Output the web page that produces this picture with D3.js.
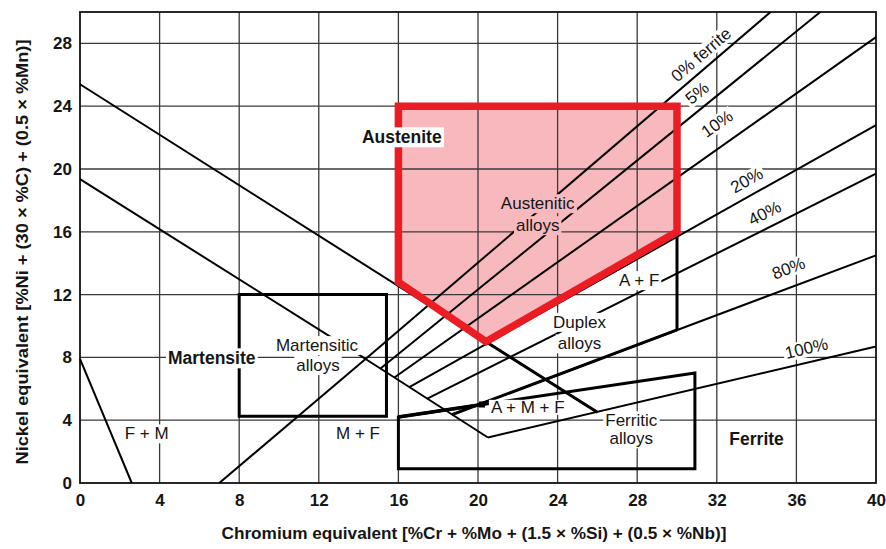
<!DOCTYPE html>
<html>
<head>
<meta charset="utf-8">
<script src="https://cdn.jsdelivr.net/npm/d3@7"></script>
<style>
  body { margin: 0; background: #fff; }
  text { font-family: "Liberation Sans", Arial, Helvetica, sans-serif; fill: #151515; }
</style>
</head>
<body>
<svg id="chart" width="886" height="549"></svg>
<script>
// Axis ticks (Cr equivalent on x, Ni equivalent on y)
const xTicks = [0, 4, 8, 12, 16, 20, 24, 28, 32, 36, 40];
const yTicks = [0, 4, 8, 12, 16, 20, 24, 28];

// Phase boundaries, [Cr_eq, Ni_eq]
const austeniteBoundary = [[0, 25.4], [26, 4.5]];
const austeniteBoundaryLower = [[20.4, 9.0], [26, 4.5]];
const martensiteBoundary = [[0, 19.36], [14.35, 7.9]];
const fmBoundary = [[0, 7.9], [2.6, 0]];
const mfBoundary = [[7, 0], [14.35, 7.9]];
const amfBoundary = [[14.35, 7.9], [20.5, 2.9]];
const amfPointer = [[16, 4.2], [20.2, 5.0]];

// Iso-ferrite lines
const ferriteLabels = ["0% ferrite", "5%", "10%", "20%", "40%", "80%", "100%"];
const ferriteStart = [[14.35, 7.9], [15.1, 7.29], [15.8, 6.72], [16.55, 6.11], [17.45, 5.38], [18.7, 4.36], [20.5, 2.9]];
const ferriteEnd = [[34.7, 30], [37.2, 30], [40, 28.4], [40, 22.8], [40, 19.7], [40, 14.5], [40, 8.7]];

// Alloy-family boxes and the duplex field
const martensiticBox = [[8, 4.25], [15.4, 4.25], [15.4, 12], [8, 12]];
const ferriticBox = [[16, 4.2], [30.9, 7.0], [30.9, 0.9], [16, 0.9]];
const afBoundary = [[30, 16], [30, 9.75]];
const duplexBoundary = [[18.7, 4.36], [30, 9.75]];
const austeniticRegion = [[16, 24], [30, 24], [30, 16], [20.4, 9], [16, 12.8]];

const svg = d3.select("#chart");
const x = d3.scaleLinear().domain([0, 40]).range([80, 876]);
const y = d3.scaleLinear().domain([0, 30]).range([483, 12]);
const line = d3.line().x(d => x(d[0])).y(d => y(d[1]));

// Austenitic alloys region (fill under the grid)
svg.append("path").datum(austeniticRegion)
  .attr("d", d => line(d) + "Z")
  .attr("fill", "#f8b9be");

// Grid
const grid = svg.append("g").attr("stroke", "#3a3a3a").attr("stroke-width", 1.3);
grid.selectAll("line.v").data(xTicks.slice(1, -1)).join("line")
  .attr("x1", d => x(d)).attr("x2", d => x(d)).attr("y1", y(0)).attr("y2", y(30));
grid.selectAll("line.h").data(yTicks.slice(1)).join("line")
  .attr("y1", d => y(d)).attr("y2", d => y(d)).attr("x1", x(0)).attr("x2", x(40));

// Axes
const xAxis = d3.axisBottom(x).tickValues(xTicks).tickSize(0).tickPadding(11);
const yAxis = d3.axisLeft(y).tickValues(yTicks).tickSize(0).tickPadding(8);
const gx = svg.append("g").attr("transform", `translate(0,${y(0)})`).call(xAxis);
const gy = svg.append("g").attr("transform", `translate(${x(0)},0)`).call(yAxis);
[gx, gy].forEach(g => {
  g.select(".domain").remove();
  g.selectAll("text").attr("font-size", 17).attr("font-weight", "bold")
    .style("font-family", "'Liberation Sans', Arial, sans-serif").attr("fill", "#1a1a1a");
});

// Plot frame
svg.append("rect").attr("x", x(0)).attr("y", y(30))
  .attr("width", x(40) - x(0)).attr("height", y(0) - y(30))
  .attr("fill", "none").attr("stroke", "#111").attr("stroke-width", 1.8);

// Boundary lines
const thin = svg.append("g").attr("fill", "none").attr("stroke", "#000").attr("stroke-width", 2);
[austeniteBoundary, martensiteBoundary, fmBoundary, mfBoundary, amfBoundary].forEach(p =>
  thin.append("path").datum(p).attr("d", line));
ferriteStart.forEach((s, i) =>
  thin.append("path").datum([s, ferriteEnd[i]]).attr("d", line));

const thick = svg.append("g").attr("fill", "none").attr("stroke", "#000").attr("stroke-width", 3);
thick.append("path").datum(martensiticBox).attr("d", d => line(d) + "Z");
thick.append("path").datum(ferriticBox).attr("d", d => line(d) + "Z");
[afBoundary, duplexBoundary, austeniteBoundaryLower].forEach(p =>
  thick.append("path").datum(p).attr("d", line));
thick.append("path").datum(amfPointer).attr("d", line).attr("stroke-width", 3.6);
svg.append("rect").datum(amfPointer[1])
  .attr("x", d => x(d[0]) - 3).attr("y", d => y(d[1]) - 3)
  .attr("width", 6).attr("height", 6).attr("fill", "#000");

// Region outline
svg.append("path").datum(austeniticRegion)
  .attr("d", d => line(d) + "Z")
  .attr("fill", "none").attr("stroke", "#ec1c24").attr("stroke-width", 7.5)
  .attr("stroke-linejoin", "miter");

// Labels, with an optional backing that cuts the lines beneath
function label(txt, cx, cy, o = {}) {
  const g = svg.append("g")
    .attr("transform", `translate(${x(cx)},${y(cy)}) rotate(${o.angle || 0})`);
  const r = g.append("rect");
  const t = g.append("text").attr("text-anchor", "middle").attr("dy", "0.36em")
    .attr("font-size", o.size || 17).attr("font-weight", o.bold ? "bold" : "normal")
    .text(txt);
  if (o.bg) {
    const b = t.node().getBBox();
    const px = o.padX == null ? 2 : o.padX, py = o.padY == null ? 0 : o.padY;
    r.attr("x", b.x - px).attr("y", b.y - py)
      .attr("width", b.width + 2 * px).attr("height", b.height + 2 * py)
      .attr("fill", o.bg);
  } else r.remove();
}
label("Austenite", 16.17, 22.04, { bold: true, bg: "#fff", size: 17.5 });
label("Austenitic", 23, 17.83, { bg: "#f8b9be" });
label("alloys", 23, 16.43, { bg: "#f8b9be" });
label("Martensite", 6.62, 7.96, { bold: true, bg: "#fff", size: 17.5 });
label("Martensitic", 11.91, 8.79, { bg: "#fff" });
label("alloys", 11.96, 7.52, { bg: "#fff" });
label("F + M", 3.35, 3.17, { bg: "#fff" });
label("M + F", 13.97, 3.17, { bg: "#fff" });
label("A + M + F", 22.5, 4.86, { bg: "#fff", padY: -2 });
label("Ferritic", 27.7, 4.0, { bg: "#fff" });
label("alloys", 27.7, 2.85, { bg: "#fff" });
label("Duplex", 25.1, 10.27, { bg: "#fff" });
label("alloys", 25.1, 8.9, { bg: "#fff" });
label("A + F", 28.1, 12.93, { bg: "#fff" });
label("Ferrite", 34.0, 2.85, { bold: true, size: 17.5 });

const ferriteLabelPos = [[31.2, 27.3], [31, 24.85], [32, 22.9], [33.5, 19.3], [34.4, 17.2], [35.6, 13.7], [36.5, 8.6]];
ferriteLabels.forEach((t, i) => {
  const s = ferriteStart[i], e = ferriteEnd[i];
  const ang = Math.atan2(y(e[1]) - y(s[1]), x(e[0]) - x(s[0])) * 180 / Math.PI;
  label(t, ferriteLabelPos[i][0], ferriteLabelPos[i][1], { angle: ang, bg: "#fff", padY: -1 });
});

// Axis titles
svg.append("text").attr("x", 474).attr("y", 533).attr("text-anchor", "middle")
  .attr("dominant-baseline", "central").attr("font-size", 17).attr("font-weight", "bold")
  .attr("textLength", 505).attr("lengthAdjust", "spacingAndGlyphs")
  .text("Chromium equivalent [%Cr + %Mo + (1.5 × %Si) + (0.5 × %Nb)]");
svg.append("text").attr("transform", "translate(22,252) rotate(-90)")
  .attr("text-anchor", "middle").attr("dominant-baseline", "central")
  .attr("font-size", 17).attr("font-weight", "bold")
  .attr("textLength", 425).attr("lengthAdjust", "spacingAndGlyphs")
  .text("Nickel equivalent [%Ni + (30 × %C) + (0.5 × %Mn)]");
</script>
</body>
</html>
